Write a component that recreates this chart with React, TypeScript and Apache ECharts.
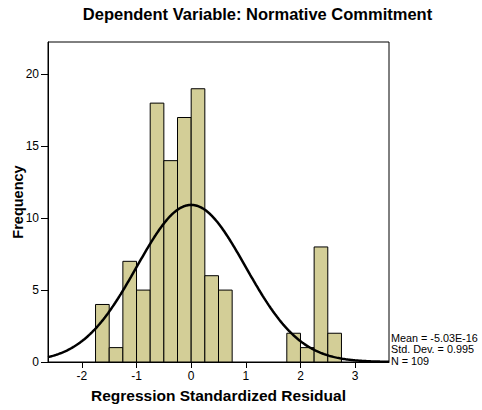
import React, { useEffect, useRef } from "react";
import * as echarts from "echarts";

// Histogram bins (lower edge) and frequencies
const binLower = [-1.75, -1.5, -1.25, -1.0, -0.75, -0.5, -0.25, 0.0, 0.25, 0.5, 0.75, 1.0, 1.25, 1.5, 1.75, 2.0, 2.25, 2.5];
const frequency = [4, 1, 7, 5, 18, 14, 17, 19, 6, 5, 0, 0, 0, 0, 2, 1, 8, 2];
const binWidth = 0.25;

// Reported statistics
const statMean = -5.03e-16;
const statSd = 0.995;
const statN = 109;
const statLines = ["Mean = -5.03E-16", "Std. Dev. = 0.995", "N = 109"];

const xTicks = [-2, -1, 0, 1, 2, 3];
const yTicks = [0, 5, 10, 15, 20];

const X_MIN = -2.62;
const X_MAX = 3.62;
const Y_MAX = 22.25;

const FONT = "'Liberation Sans', Arial, Helvetica, sans-serif";

export default function App() {
  const ref = useRef<HTMLDivElement>(null);
  useEffect(() => {
    if (!ref.current) return;
    const chart = echarts.init(ref.current, null, { renderer: "svg" });

    const barData = binLower.map((lo, i) => [lo, lo + binWidth, frequency[i]]);

    // fitted normal curve from the reported mean, std. dev. and N
    const curve: number[][] = [];
    const steps = 300;
    for (let i = 0; i <= steps; i++) {
      const x = X_MIN + ((X_MAX - X_MIN) * i) / steps;
      const z = (x - statMean) / statSd;
      const y = (statN * binWidth * Math.exp(-0.5 * z * z)) / (statSd * Math.sqrt(2 * Math.PI));
      curve.push([x, y]);
    }

    chart.setOption({
      animation: false,
      backgroundColor: "#ffffff",
      grid: {
        left: 48,
        right: 93,
        top: 42,
        bottom: 48,
        containLabel: false,
        outerBoundsMode: "none",
        show: true,
        borderColor: "#000",
        borderWidth: 1,
        backgroundColor: "transparent",
      },
      xAxis: {
        type: "value",
        min: X_MIN,
        max: X_MAX,
        name: "Regression Standardized Residual",
        nameLocation: "middle",
        nameGap: 25,
        nameMoveOverlap: false,
        nameTextStyle: { fontFamily: FONT, fontWeight: "bold", fontSize: 15.5, color: "#000" },
        axisLine: { show: true, onZero: false, lineStyle: { color: "#000", width: 1 } },
        axisTick: { show: true, length: 6, customValues: xTicks, lineStyle: { color: "#000" } },
        axisLabel: {
          customValues: xTicks,
          fontFamily: FONT,
          fontSize: 12,
          color: "#000",
          margin: 8,
        },
        splitLine: { show: false },
      },
      yAxis: {
        type: "value",
        min: 0,
        max: Y_MAX,
        name: "Frequency",
        nameLocation: "middle",
        nameGap: 23,
        nameMoveOverlap: false,
        nameTextStyle: { fontFamily: FONT, fontWeight: "bold", fontSize: 14.5, color: "#000" },
        axisLine: { show: true, onZero: false, lineStyle: { color: "#000", width: 1 } },
        axisTick: { show: true, length: 7, customValues: yTicks, lineStyle: { color: "#000" } },
        axisLabel: {
          customValues: yTicks,
          fontFamily: FONT,
          fontSize: 12,
          color: "#000",
          margin: 9,
        },
        splitLine: { show: false },
      },
      series: [
        {
          type: "custom",
          data: barData,
          encode: { x: [0, 1], y: 2 },
          renderItem: (params: any, api: any) => {
            const lo = api.value(0);
            const hi = api.value(1);
            const v = api.value(2);
            if (!v) return null;
            const p0 = api.coord([lo, 0]);
            const p1 = api.coord([hi, v]);
            return {
              type: "rect",
              shape: { x: p0[0], y: p1[1], width: p1[0] - p0[0], height: p0[1] - p1[1] },
              style: { fill: "#d3ce97", stroke: "#000", lineWidth: 1 },
            };
          },
          z: 2,
        },
        {
          type: "line",
          data: curve,
          showSymbol: false,
          symbol: "none",
          smooth: false,
          lineStyle: { color: "#000", width: 2.5 },
          z: 3,
        },
      ],
      graphic: [
        {
          type: "text",
          x: 257.5,
          y: 14,
          style: {
            text: "Dependent Variable: Normative Commitment",
            fontFamily: FONT,
            fontWeight: "bold",
            fontSize: 16.5,
            fill: "#000",
            textAlign: "center",
            textVerticalAlign: "middle",
          },
        },
        ...statLines.map((t, i) => ({
          type: "text",
          x: 391,
          y: 337.5 + i * 11.5,
          style: {
            text: t,
            fontFamily: FONT,
            fontSize: 10.8,
            fill: "#000",
            textAlign: "left",
            textVerticalAlign: "middle",
          },
        })),
      ],
    });
    return () => chart.dispose();
  }, []);

  return (
    <div
      ref={ref}
      style={{ position: "fixed", left: 0, top: 0, width: 482, height: 410, background: "#fff" }}
    />
  );
}
